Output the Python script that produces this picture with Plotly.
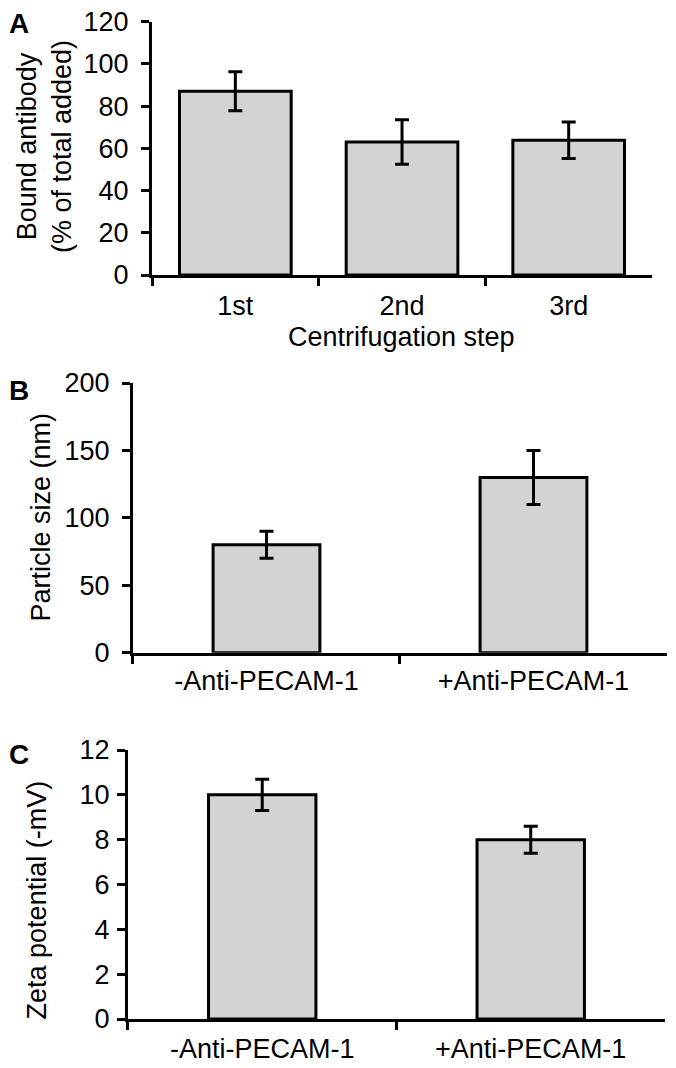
import plotly.graph_objects as go

# Panel A: antibody binding after each centrifugation step
steps = ["1st", "2nd", "3rd"]
bound_pct = [87, 63, 63.8]
bound_err = [9.2, 10.5, 8.6]

# Panel B / C: particles with and without antibody
groups = ["-Anti-PECAM-1", "+Anti-PECAM-1"]
size_nm = [80, 130]
size_err = [10, 20]
zeta_mv = [10, 8]
zeta_err = [0.7, 0.6]

FONT = "Liberation Sans, Arial, sans-serif"
BAR_COLOR = "#d3d3d3"
FS = 27

fig = go.Figure()


def add_bars(x, y, err, xa, ya, w):
    fig.add_trace(go.Bar(
        x=x, y=y, xaxis=xa, yaxis=ya, width=w,
        marker=dict(color=BAR_COLOR, line=dict(color="black", width=3)),
        error_y=dict(type="data", array=err, color="black", thickness=3, width=7),
        showlegend=False,
    ))


add_bars(steps, bound_pct, bound_err, "x", "y", 0.67)
add_bars(groups, size_nm, size_err, "x2", "y2", 0.40)
add_bars(groups, zeta_mv, zeta_err, "x3", "y3", 0.40)

common = dict(showline=True, linecolor="black", linewidth=3, ticks="outside",
              ticklen=8, tickwidth=3, tickcolor="black", showgrid=False,
              zeroline=False, automargin=False, ticklabeloverflow="allow",
              tickfont=dict(size=FS, color="black", family=FONT))

# page body has an 8px margin, so the figure is 8px smaller than the window
fig.update_layout(
    width=668, height=1060,
    margin=dict(l=0, r=0, t=0, b=0),
    paper_bgcolor="white", plot_bgcolor="white",
    font=dict(family=FONT, color="black"),
    xaxis=dict(domain=[0.2156, 0.9641], anchor="y", tickson="boundaries",
               ticklabelstandoff=5, **common),
    yaxis=dict(domain=[0.7481, 0.9872], anchor="x", range=[0, 120], dtick=20,
               ticklabelstandoff=7, **common),
    xaxis2=dict(domain=[0.1871, 0.9865], anchor="y2", tickson="boundaries",
                ticklabelstandoff=2, **common),
    yaxis2=dict(domain=[0.3918, 0.6462], anchor="x2", range=[0, 200], dtick=50,
                ticklabelstandoff=7, **common),
    xaxis3=dict(domain=[0.1796, 0.9835], anchor="y3", tickson="boundaries",
                ticklabelstandoff=4, **common),
    yaxis3=dict(domain=[0.0462, 0.3000], anchor="x3", range=[0, 12], dtick=2,
                ticklabelstandoff=2, **common),
)

# axis titles
titles = [
    ("Bound antibody<br>(% of total added)", 0.0546, 0.8693, -90),
    ("Particle size (nm)", 0.0494, 0.5203, -90),
    ("Zeta potential (-mV)", 0.0434, 0.159, -90),
    ("Centrifugation step", 0.5898, 0.6896, 0),
]
for text, x, y, angle in titles:
    fig.add_annotation(text=text, xref="paper", yref="paper", x=x, y=y,
                       xanchor="center", yanchor="middle", textangle=angle,
                       showarrow=False, font=dict(size=FS, family=FONT, color="black"))

for letter, ypos in [("A", 0.9858), ("B", 0.6387), ("C", 0.2953)]:
    fig.add_annotation(text="<b>%s</b>" % letter, xref="paper", yref="paper",
                       x=0.0165, y=ypos, xanchor="center", yanchor="middle",
                       showarrow=False, font=dict(size=28, family=FONT, color="black"))

fig.write_html("out.html")
